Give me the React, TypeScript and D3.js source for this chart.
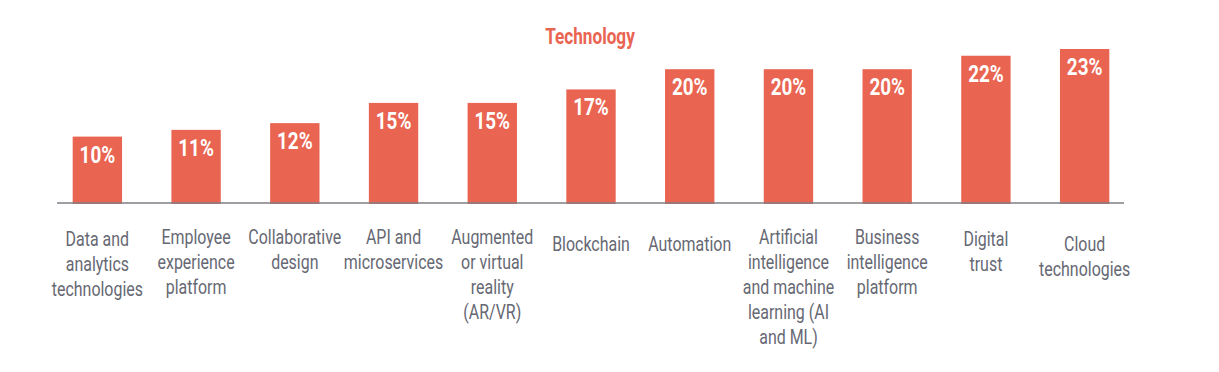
import React from "react";
import * as d3 from "d3";

const categories = [
  "Data and analytics technologies",
  "Employee experience platform",
  "Collaborative design",
  "API and microservices",
  "Augmented or virtual reality (AR/VR)",
  "Blockchain",
  "Automation",
  "Artificial intelligence and machine learning (AI and ML)",
  "Business intelligence platform",
  "Digital trust",
  "Cloud technologies",
];

// how each category label is wrapped in the picture
const labelLines = [
  ["Data and", "analytics", "technologies"],
  ["Employee", "experience", "platform"],
  ["Collaborative", "design"],
  ["API and", "microservices"],
  ["Augmented", "or virtual", "reality", "(AR/VR)"],
  ["Blockchain"],
  ["Automation"],
  ["Artificial", "intelligence", "and machine", "learning (AI", "and ML)"],
  ["Business", "intelligence", "platform"],
  ["Digital", "trust"],
  ["Cloud", "technologies"],
];

const values = [10, 11, 12, 15, 15, 17, 20, 20, 20, 22, 23];

const title = "Technology";

const width = 1219;
const height = 372;
const barColor = "#E96451";
const textColor = "#666873";
// no condensed face installed, so Roboto gets squeezed horizontally
const font = "Roboto, 'DejaVu Sans', sans-serif";

const App = () => {
  const x = d3
    .scaleBand()
    .domain(categories)
    .range([48, 1134])
    .paddingInner(0.5)
    .paddingOuter(0.25);

  const y = d3.scaleLinear().domain([0, 23]).range([204, 49]);

  const cx = (c) => x(c) + x.bandwidth() / 2;
  const baseline = 203;
  // a few labels sit a little lower than the rest
  const nudge = { Blockchain: 7, Automation: 7, "Cloud technologies": 7, "Digital trust": 2, "Data and analytics technologies": 2 };

  return (
    <svg
      width={width}
      height={height}
      style={{ position: "absolute", left: 0, top: 0, background: "#fff" }}
    >
      <g transform="translate(590,44) scale(0.78,1)">
        <text
          textAnchor="middle"
          fontFamily={font}
          fontWeight="bold"
          fontSize={22}
          fill={barColor}
        >
          {title}
        </text>
      </g>

      {/* bars */}
      <g>
        {categories.map((c, i) => (
          <rect
            key={c}
            x={x(c)}
            y={y(values[i])}
            width={x.bandwidth()}
            height={y(0) - y(values[i])}
            fill={barColor}
          />
        ))}
      </g>

      <line x1={57} x2={1124} y1={baseline} y2={baseline} stroke="#7f7f85" strokeWidth={1.5} />

      {/* value labels */}
      <g>
        {categories.map((c, i) => (
          <g key={c} transform={`translate(${cx(c)},${y(values[i]) + 26}) scale(0.82,1)`}>
            <text
              textAnchor="middle"
              fontFamily={font}
              fontWeight="bold"
              fontSize={23}
              fill="#fff"
            >
              {values[i]}%
            </text>
          </g>
        ))}
      </g>

      {/* category labels */}
      <g>
        {categories.map((c, i) => (
          <g key={c} transform={`translate(${cx(c)},${244 + (nudge[c] || 0)}) scale(0.76,1)`}>
            <text textAnchor="middle" fontFamily={font} fontSize={21} fill={textColor}>
              {labelLines[i].map((line, j) => (
                <tspan key={j} x={0} y={j * 25}>
                  {line}
                </tspan>
              ))}
            </text>
          </g>
        ))}
      </g>
    </svg>
  );
};

export default App;
